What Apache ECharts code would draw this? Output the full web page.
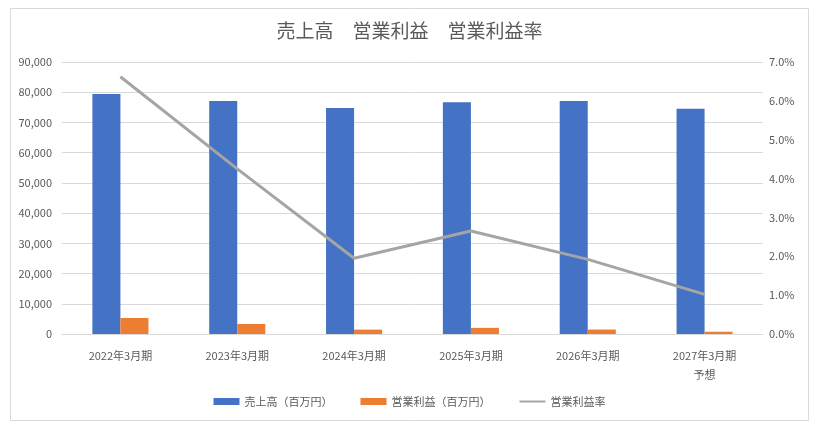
<!DOCTYPE html>
<html><head><meta charset="utf-8">
<script src="https://cdn.jsdelivr.net/npm/echarts@6/dist/echarts.min.js"></script>
<style>html,body{margin:0;padding:0;background:#fff}#c{width:819px;height:429px}</style>
</head><body><div id="c"></div>
<script>
const categories = ['2022年3月期','2023年3月期','2024年3月期','2025年3月期','2026年3月期','2027年3月期\n予想'];
const sales = [79400, 77100, 74800, 76700, 77100, 74500];
const opProfit = [5300, 3300, 1450, 2030, 1480, 750];
const opMargin = [6.62, 4.25, 1.95, 2.65, 1.92, 1.02];
const leftTicks = {min: 0, max: 90000, interval: 10000};
const rightTicks = {min: 0, max: 7, interval: 1};

const font = "'Noto Sans CJK JP', 'Noto Sans', sans-serif";
const chart = echarts.init(document.getElementById('c'));
chart.setOption({
  animation: false,
  textStyle: {fontFamily: font},
  graphic: [{type: 'rect', shape: {x: 10.5, y: 8.5, width: 798, height: 412}, style: {fill: 'none', stroke: '#d9d9d9', lineWidth: 1}, z: -1}],
  title: {text: '売上高　営業利益　営業利益率', left: 'center', top: 16,
    textStyle: {fontSize: 19, fontWeight: 'normal', color: '#595959', fontFamily: font}},
  legend: {bottom: 17, left: 'center', itemGap: 28, itemWidth: 26, itemHeight: 7,
    textStyle: {fontSize: 11, color: '#595959', fontFamily: font},
    data: [{name: '売上高（百万円）', icon: 'rect'}, {name: '営業利益（百万円）', icon: 'rect'},
      {name: '営業利益率', itemStyle: {opacity: 0}}]},
  grid: {left: 62, right: 56, top: 62, bottom: 95},
  xAxis: {type: 'category', data: categories,
    axisLine: {lineStyle: {color: '#d9d9d9', width: 1}}, axisTick: {show: false},
    axisLabel: {color: '#595959', fontSize: 11, margin: 12, lineHeight: 19, fontFamily: font}},
  yAxis: [
    {type: 'value', min: leftTicks.min, max: leftTicks.max, interval: leftTicks.interval,
      splitLine: {lineStyle: {color: '#d9d9d9'}}, axisLine: {show: false}, axisTick: {show: false},
      axisLabel: {color: '#595959', fontSize: 11, margin: 10, formatter: v => v.toLocaleString('en-US')}},
    {type: 'value', min: rightTicks.min, max: rightTicks.max, interval: rightTicks.interval,
      splitLine: {show: false}, axisLine: {show: false}, axisTick: {show: false},
      axisLabel: {color: '#595959', fontSize: 11, margin: 6, formatter: v => v.toFixed(1) + '%'}}
  ],
  series: [
    {name: '売上高（百万円）', type: 'bar', data: sales, itemStyle: {color: '#4472c4'}, barGap: '0%', barCategoryGap: '52%'},
    {name: '営業利益（百万円）', type: 'bar', data: opProfit, itemStyle: {color: '#ed7d31'}},
    {name: '営業利益率', type: 'line', yAxisIndex: 1, data: opMargin, symbol: 'none',
      lineStyle: {color: '#a5a5a5', width: 3}, itemStyle: {color: '#a5a5a5'}}
  ]
});
</script></body></html>
